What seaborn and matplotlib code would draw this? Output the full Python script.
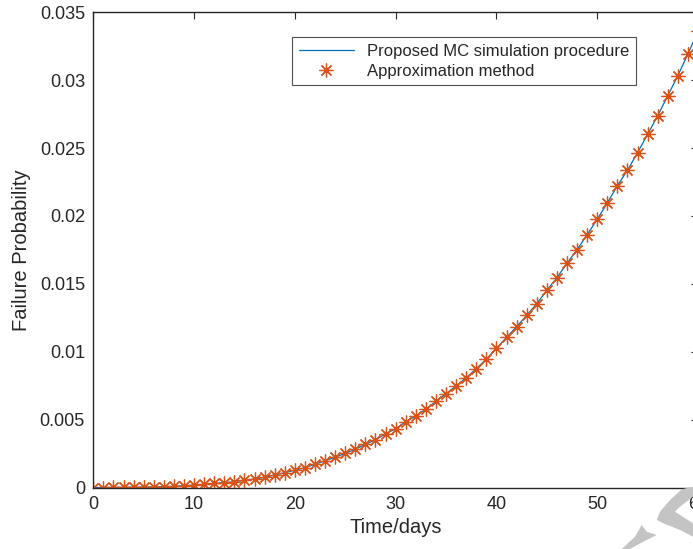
import numpy as np
import pandas as pd
import seaborn as sns
import matplotlib.pyplot as plt
from matplotlib.patches import Polygon

# values (days 0..60)
days = list(range(0, 61))
p_mc = [0.0, 0.0, 0.00001, 0.00001, 0.00002, 0.00003, 0.00004, 0.00006, 0.00009, 0.00013,
        0.00018, 0.00024, 0.00031, 0.00035, 0.00043, 0.00053, 0.00063, 0.00075, 0.00092, 0.00109,
        0.00127, 0.00146, 0.00171, 0.00197, 0.00222, 0.00252, 0.00281, 0.00318, 0.00352, 0.00394,
        0.00433, 0.00485, 0.00527, 0.00578, 0.00635, 0.00691, 0.00748, 0.00809, 0.00875, 0.00946,
        0.01025, 0.01106, 0.01184, 0.01268, 0.01354, 0.01452, 0.01545, 0.01651, 0.01752, 0.01862,
        0.01975, 0.02095, 0.02223, 0.02336, 0.02466, 0.02601, 0.02738, 0.02886, 0.03033, 0.03193,
        0.03362]
p_approx = list(p_mc)

x_ticks = [0, 10, 20, 30, 40, 50, 60]
y_ticks = [0, 0.005, 0.01, 0.015, 0.02, 0.025, 0.03, 0.035]
y_tick_labels = ['0', '0.005', '0.01', '0.015', '0.02', '0.025', '0.03', '0.035']

df = pd.DataFrame({'days': days, 'mc': p_mc, 'approx': p_approx})

sns.set_theme(style='white')
plt.rcParams['font.family'] = ['Liberation Sans', 'DejaVu Sans']

W, H = 693, 549
fig = plt.figure(figsize=(W / 100, H / 100), dpi=100)
# axes runs a little past the right edge of the picture, as in the reference crop
left, right, top, bottom = 93.3, 698.0, 12.3, 487.5
ax = fig.add_axes([left / W, (H - bottom) / H, (right - left) / W, (bottom - top) / H])

orange = '#D95319'
sns.lineplot(data=df, x='days', y='mc', ax=ax, color='#0072BD', linewidth=0.9,
             label='Proposed MC simulation procedure')
sns.lineplot(data=df, x='days', y='approx', ax=ax, color=orange, linestyle='',
             marker=(8, 2, 0), markersize=10, markeredgewidth=0.9,
             markeredgecolor=orange, markerfacecolor=orange,
             label='Approximation method')

ax.set_xlim(0, 60)
ax.set_ylim(0, 0.035)
ax.set_xticks(x_ticks)
ax.set_yticks(y_ticks)
ax.set_yticklabels(y_tick_labels)
ax.tick_params(direction='in', length=5, width=0.8, colors='#262626', labelsize=13,
               top=True, right=True, pad=6)
for s in ax.spines.values():
    s.set_color('#262626')
    s.set_linewidth(1.0)

ax.set_xlabel('Time/days', fontsize=14.5, color='#262626', labelpad=4)
ax.set_ylabel('Failure Probability', fontsize=14.5, color='#262626', labelpad=6)

leg = ax.legend(loc='upper right', bbox_to_anchor=(0.8975, 0.948), borderaxespad=0,
                fontsize=12, frameon=True, fancybox=False, handlelength=3.3,
                borderpad=0.4, labelspacing=0.3)
leg.get_frame().set_edgecolor('#262626')
leg.get_frame().set_linewidth(0.8)

# light grey stamp fragment at bottom right of the reference
stamp1 = [(681.7, 489.3), (693, 486.7), (693, 496.7), (680, 506.7), (675, 511.7), (693, 523.3),
          (693, 536.7), (680, 530), (663.3, 523.3), (656.7, 520), (660, 511.7), (670, 500)]
stamp2 = [(641.7, 525), (646.7, 531.7), (656.7, 535), (643.3, 541.7), (630, 549), (621.7, 549),
          (635, 536.7)]
for pts in (stamp1, stamp2):
    fig.patches.append(Polygon([(x / W, 1 - y / H) for x, y in pts], closed=True,
                               transform=fig.transFigure, facecolor='#C4C4C4',
                               edgecolor='none', zorder=5))

fig.savefig('out.png', dpi=100)
